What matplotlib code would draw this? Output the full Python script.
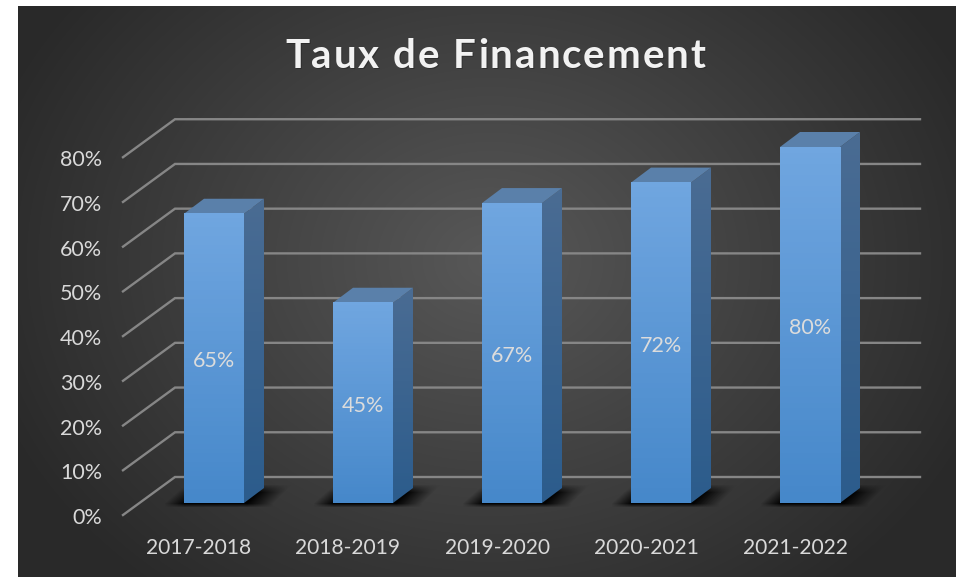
import numpy as np
import matplotlib
matplotlib.use("Agg")
import matplotlib.pyplot as plt
from matplotlib.patches import Polygon

plt.rcParams['font.family'] = ['Lato', 'DejaVu Sans']

# data
years = ['2017-2018', '2018-2019', '2019-2020', '2020-2021', '2021-2022']
taux = [65, 45, 67.4, 72, 80]
y_ticks = [0, 10, 20, 30, 40, 50, 60, 70, 80]
title = "Taux de Financement"

W, H = 956, 577
# axes fill the figure: 1 category = 149 px, 1 % = 4.45 px
pitch = 149.0
unit = 4.45
x0_px, y0_px = 214.0, 503.0
bar_w = 60 / pitch
dx = 20 / pitch   # bar depth
dy = 15 / unit
text_drop = 3 / unit   # va='center' sits a bit high for this font

fig = plt.figure(figsize=(W / 100, H / 100), dpi=100, facecolor='white')
ax = fig.add_axes([0, 0, 1, 1])
xlim = (-x0_px / pitch, (W - x0_px) / pitch)
ylim = ((y0_px - H) / unit, y0_px / unit)
ax.set_xlim(xlim)
ax.set_ylim(ylim)
ax.axis('off')


def px_x(p):
    return (p - x0_px) / pitch


def px_y(p):
    return (y0_px - p) / unit


# background, radial gradient
left, right, top, bottom = 18, 956, 6, 577
xx, yy = np.meshgrid(np.arange(left, right), np.arange(top, bottom))
r = np.sqrt(((xx - 490) / 520.0) ** 2 + ((yy - 260) / 420.0) ** 2)
r = np.clip(r, 0, 1)
g = (0x58 + (0x2a - 0x58) * r) / 255
ax.imshow(np.dstack([g, g, g]), extent=(px_x(left), px_x(right), px_y(bottom), px_y(top)),
          aspect='auto', origin='upper', zorder=0)

# gridlines: front edge then back wall
for v in y_ticks:
    yf = px_y(515) + v * 1.005
    yb = px_y(477) + v * 1.005
    ax.plot([px_x(123), px_x(175), px_x(920)], [yf, yb, yb], color='#868686', lw=1.7,
            solid_joinstyle='miter', zorder=1)
    ax.text(px_x(102), yf - text_drop, f"{v}%", color='#d9d9d9', fontsize=15.5, ha='right', va='center', zorder=6)

# floor shadows
for i in range(len(taux)):
    sx, sy = np.meshgrid(np.arange(150, 300), np.arange(470, 515))
    t = np.clip((503 - sy) / 18.0, 0, 1)
    l = 164 + 20 * t
    rr = 272 + 18 * t
    a = np.clip((sx - l) / 20, 0, 1) * np.clip((rr - sx) / 26, 0, 1)
    a = a * np.clip((sy - 484) / 8, 0, 1) * np.clip((507 - sy) / 4, 0, 1)
    img = np.zeros(a.shape + (4,))
    img[..., 3] = a * 0.95
    ax.imshow(img, extent=(i + px_x(150), i + px_x(300), px_y(515), px_y(470)), aspect='auto',
              origin='upper', zorder=2)

# bars
front_top = np.array([0x70, 0xa6, 0xe0]) / 255
front_bot = np.array([0x46, 0x88, 0xca]) / 255
side_top = np.array([0x4a, 0x6c, 0x93]) / 255
side_bot = np.array([0x2c, 0x5c, 0x8c]) / 255
for i, v in enumerate(taux):
    xl, xr = i - bar_w / 2, i + bar_w / 2
    n = 64
    s = np.linspace(0, 1, n)[:, None, None]
    # side face
    side = side_top[None, None, :] * (1 - s) + side_bot[None, None, :] * s
    im = ax.imshow(side, extent=(xr, xr + dx, 0, v + dy), aspect='auto', origin='upper', zorder=3)
    im.set_clip_path(Polygon([(xr, 0), (xr + dx, dy), (xr + dx, v + dy), (xr, v)], transform=ax.transData))
    # top face
    ax.add_patch(Polygon([(xl, v), (xl + dx, v + dy), (xr + dx, v + dy), (xr, v)], closed=True,
                         facecolor='#5a80aa', edgecolor='none', zorder=3))
    # front face
    front = front_top[None, None, :] * (1 - s) + front_bot[None, None, :] * s
    ax.imshow(front, extent=(xl, xr, 0, v), aspect='auto', origin='upper', zorder=4)
    ax.text(i, v / 2 - text_drop, f"{v:.0f}%", color='#dcdcdc', fontsize=15.5, ha='center', va='center', zorder=6)
    ax.text(i + px_x(199), px_y(546) - 2 / unit, years[i], color='#d9d9d9', fontsize=15.1,
            ha='center', va='center', zorder=6)

# title with letter spacing, one glyph at a time
fig.canvas.draw()
rend = fig.canvas.get_renderer()
spacing = 1.95
x_cur = 285.0
for k, ch in enumerate(title):
    if ch == ' ':
        continue
    # advance of the text before this glyph, measured with a stand-in glyph
    pre = ax.text(0, 0, title[:k] + 'x', fontsize=29, fontweight='bold')
    adv = pre.get_window_extent(rend).width
    pre.remove()
    pre = ax.text(0, 0, 'x', fontsize=29, fontweight='bold')
    adv -= pre.get_window_extent(rend).width
    pre.remove()
    xp = x_cur + adv + spacing * k
    ax.text(px_x(xp + 1), px_y(67.5 + 1.5), ch, color='#202020', alpha=0.5, fontsize=29, fontweight='bold',
            ha='left', va='baseline', zorder=6)
    ax.text(px_x(xp), px_y(67.5), ch, color='#f2f2f2', fontsize=29, fontweight='bold',
            ha='left', va='baseline', zorder=7)

ax.set_xlim(xlim)
ax.set_ylim(ylim)
fig.savefig('out.png', dpi=100)
